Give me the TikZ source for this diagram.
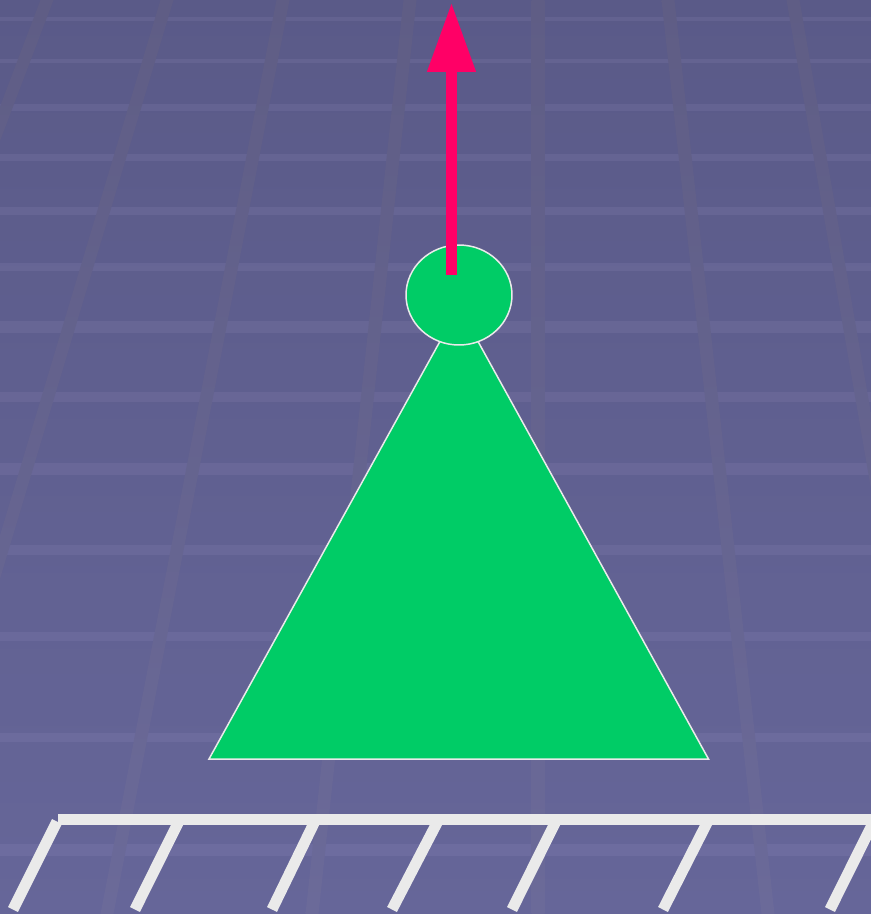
\documentclass[tikz,border=0pt]{standalone}
\usetikzlibrary{arrows.meta,shapes.geometric}
\definecolor{bgtop}{HTML}{5A5A88}
\definecolor{bgbot}{HTML}{666699}
\definecolor{gridtop}{HTML}{5F5D85}
\definecolor{gridbot}{HTML}{6B6A99}
\definecolor{gridlilac}{HTML}{E0D0FF}
\definecolor{bodygreen}{HTML}{00CC66}
\definecolor{arrowred}{HTML}{FF0066}
\definecolor{floorwhite}{HTML}{EAEAEA}
\tikzset{
  gridh/.style={draw=gridlilac,opacity=0.07,line width=#1*0.02cm},
  gridv/.style={top color=gridtop,bottom color=gridbot},
  body/.style={draw=floorwhite,fill=bodygreen,line width=0.03cm},
  hatch/.style={draw=floorwhite,line width=0.22cm}
}
\begin{document}
\begin{tikzpicture}[x=0.02cm,y=-0.02cm]
\useasboundingbox (0,0) rectangle (870,914);
% Backdrop
\shade[top color=bgtop,bottom color=bgbot] (-3,-3) rectangle (873,917);
\foreach \ypos/\wid in {19/4,61/4,107/7,157/7,211/8,267/8,327/12,397/10,469/12,550/10,636/9,737/9,850/12}
  \draw[gridh=\wid] (-3,\ypos)--(873,\ypos);
\foreach \xtop/\xbot in {47/-300,167/-107,283/107,410/312,538/538,668/768,793/951}
  \shade[gridv] (\xtop-6.5,0)--(\xtop+6.5,0)--(\xbot+6.5,914)--(\xbot-6.5,914)--cycle;
% Floor
\draw[hatch] (58,819)--(873,819);
\foreach \xtop/\ytop/\xbot in {57/821.5/13,180/819/135,316/819/272,439/819/392,557/819/512,709/819/663,875/819/830}
  \draw[hatch] (\xtop,\ytop)--(\xbot,909.5);
% Body
\draw[body] (209,759)--(459,307)--(708.5,759)--cycle;
\node[ellipse,body,inner sep=0pt,minimum width=2.12cm,minimum height=2cm] (ball) at (459,295) {};
% Force
\coordinate (tail) at (451.5,275);
\coordinate (tip) at (451.5,2.5);
\draw[-{Triangle[length=1.39cm,width=0.92cm]},arrowred,line width=0.22cm] (tail)--(tip);
\end{tikzpicture}
\end{document}
